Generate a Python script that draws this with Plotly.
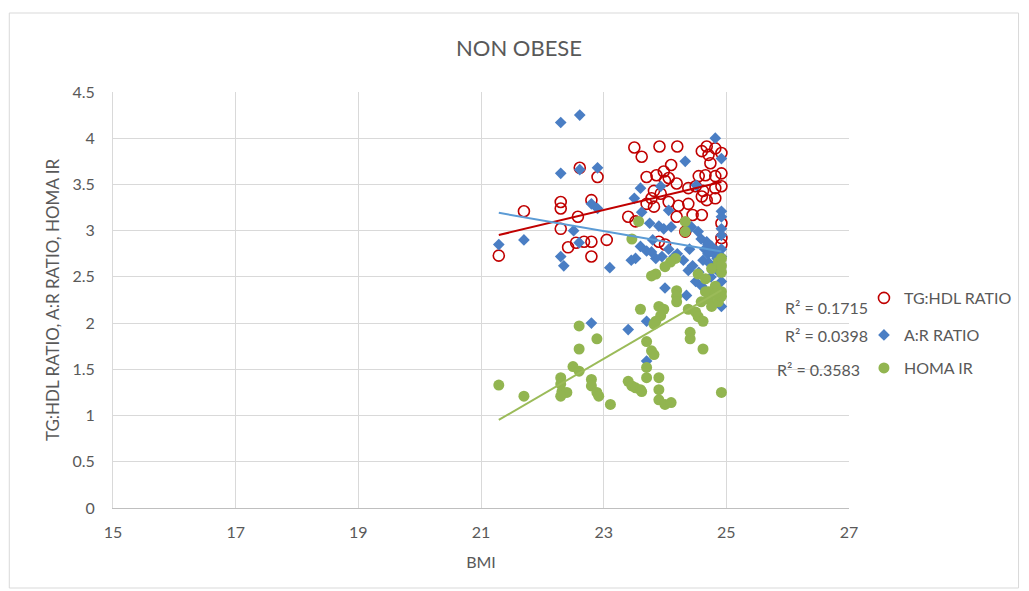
import numpy as np
import plotly.graph_objects as go

# ---------------- data ----------------
tg_x = [21.29, 21.70, 22.30, 22.30, 22.30, 22.61, 22.90, 22.80, 22.58, 22.42, 22.55, 22.68, 22.80, 23.05,
        22.80, 23.50, 23.62, 23.91, 24.20, 23.70, 23.86, 23.98, 24.06, 24.10, 24.00, 23.82, 23.93, 23.78,
        24.19, 24.38, 24.60, 24.68, 24.71, 24.82, 24.92, 24.74, 24.55, 24.66, 24.82, 24.92, 24.50, 24.62,
        24.82, 24.92, 24.60, 24.68, 24.82, 23.70, 23.82, 24.06, 24.22, 24.38, 23.40, 23.52, 24.19, 24.45,
        24.92, 24.92, 24.92, 24.33, 23.90, 24.00, 24.60]
tg_y = [2.73, 3.21, 3.31, 3.24, 3.02, 3.68, 3.58, 3.33, 3.15, 2.82, 2.87, 2.88, 2.88, 2.90,
        2.72, 3.90, 3.80, 3.91, 3.91, 3.58, 3.60, 3.64, 3.57, 3.71, 3.54, 3.43, 3.40, 3.35,
        3.51, 3.46, 3.86, 3.91, 3.82, 3.89, 3.84, 3.73, 3.59, 3.60, 3.59, 3.62, 3.48, 3.43,
        3.46, 3.48, 3.37, 3.33, 3.35, 3.29, 3.26, 3.31, 3.27, 3.29, 3.15, 3.10, 3.15, 3.17,
        3.08, 2.92, 2.85, 2.99, 2.88, 2.85, 3.17]

ar_x = [21.29, 21.70, 22.30, 22.61, 22.30, 22.61, 22.90, 22.80, 22.90, 22.51, 22.60, 22.35, 22.30, 23.10,
        23.60, 23.50, 23.93, 24.33, 24.82, 24.92, 24.51, 24.92, 24.92, 24.10, 23.52, 23.60, 23.70, 23.78,
        24.00, 24.38, 24.76, 24.68, 24.59, 24.43, 24.54, 24.92, 24.92, 23.75, 23.90, 23.98, 23.80, 24.06,
        24.06, 24.20, 22.80, 23.40, 23.70, 23.70, 24.92, 24.80, 24.85, 24.65, 23.62, 23.45, 24.92, 24.70,
        24.45, 24.55, 24.62, 24.72, 24.80, 24.88, 24.92, 24.50, 24.30, 24.15, 23.95, 23.85, 24.70, 24.85,
        24.92, 24.40, 24.60, 24.75, 24.90, 24.35]
ar_y = [2.85, 2.90, 4.17, 4.25, 3.62, 3.66, 3.68, 3.29, 3.24, 3.00, 2.87, 2.62, 2.72, 2.60,
        3.46, 3.35, 3.48, 3.75, 4.00, 3.78, 3.49, 3.21, 3.15, 3.04, 2.70, 2.83, 2.78, 2.77,
        2.38, 2.57, 2.83, 2.88, 2.91, 3.04, 2.99, 3.02, 2.95, 3.08, 3.05, 3.02, 2.90, 3.22,
        2.80, 2.75, 2.00, 1.93, 1.59, 2.02, 2.18, 2.75, 2.70, 2.80, 3.20, 2.68, 2.80, 2.85,
        2.62, 2.55, 2.68, 2.65, 2.60, 2.55, 2.45, 2.45, 2.68, 2.72, 2.72, 2.70, 2.75, 2.78,
        2.72, 2.80, 2.40, 2.50, 2.35, 2.30]

homa_x = [21.29, 21.70, 22.30, 22.30, 22.32, 22.40, 22.30, 22.50, 22.60, 22.60, 22.60, 22.89, 22.80, 22.80,
          22.89, 22.92, 23.11, 23.40, 23.46, 23.52, 23.60, 23.62, 23.70, 23.78, 23.82, 23.70, 23.70, 23.90,
          23.90, 23.90, 24.00, 24.10, 23.60, 23.90, 23.98, 23.93, 23.85, 23.82, 23.57, 23.46, 24.33, 24.33,
          24.17, 24.09, 24.00, 23.85, 23.78, 24.54, 24.66, 24.76, 24.87, 24.92, 24.82, 24.71, 24.92, 24.19,
          24.19, 24.19, 24.41, 24.41, 24.62, 24.92, 24.38, 24.50, 24.54, 24.62, 24.59, 24.71, 24.76, 24.87,
          24.92, 24.66, 24.82, 24.92, 24.92]
homa_y = [1.33, 1.21, 1.41, 1.34, 1.26, 1.25, 1.21, 1.53, 1.48, 1.72, 1.97, 1.83, 1.39, 1.32,
          1.25, 1.21, 1.12, 1.37, 1.32, 1.30, 1.28, 1.26, 1.80, 1.70, 1.66, 1.52, 1.41, 1.41,
          1.28, 1.17, 1.12, 1.14, 2.15, 2.18, 2.15, 2.08, 2.02, 1.99, 3.10, 2.91, 3.10, 2.99,
          2.70, 2.66, 2.61, 2.53, 2.51, 2.53, 2.48, 2.59, 2.66, 2.70, 2.40, 2.34, 2.34, 2.35,
          2.29, 2.23, 1.90, 1.83, 1.72, 1.25, 2.15, 2.12, 2.07, 2.02, 2.23, 2.26, 2.18, 2.23,
          2.29, 2.34, 2.32, 2.55, 2.62]

r2_labels = ["R\u00b2 = 0.1715", "R\u00b2 = 0.0398", "R\u00b2 = 0.3583"]
series_names = ["TG:HDL RATIO", "A:R RATIO", "HOMA IR"]
x_ticks = [15, 17, 19, 21, 23, 25, 27]

RED = "#C00000"
BLUE = "#4A7EC4"
GREEN = "#92B550"
LINE_BLUE = "#5B9BD5"
LINE_GREEN = "#9BBB59"
GRID = "#D9D9D9"
TXT = "#595959"
FONT = "Lato, 'Open Sans', sans-serif"


def trend(xs, ys):
    xs = np.asarray(xs); ys = np.asarray(ys)
    m, b = np.polyfit(xs, ys, 1)
    xx = np.array([xs.min(), xs.max()])
    return xx, m * xx + b


fig = go.Figure()

fig.add_trace(go.Scatter(x=tg_x, y=tg_y, mode="markers", name=series_names[0], legend="legend",
                         marker=dict(symbol="circle-open", size=11, color=RED, line=dict(width=1.6, color=RED))))
fig.add_trace(go.Scatter(x=ar_x, y=ar_y, mode="markers", name=series_names[1], legend="legend2",
                         marker=dict(symbol="diamond", size=9, color=BLUE)))
fig.add_trace(go.Scatter(x=homa_x, y=homa_y, mode="markers", name=series_names[2], legend="legend3",
                         marker=dict(symbol="circle", size=11, color=GREEN)))

for (xs, ys, col) in [(tg_x, tg_y, RED), (ar_x, ar_y, LINE_BLUE), (homa_x, homa_y, LINE_GREEN)]:
    tx, ty = trend(xs, ys)
    fig.add_trace(go.Scatter(x=tx, y=ty, mode="lines", showlegend=False, hoverinfo="skip",
                             line=dict(color=col, width=2)))

# the page body has an 8px margin, so figure coordinates = page coordinates - 8
OFF = 8
W, H = 1021, 583
L, T = 113 - OFF, 92 - OFF
R = W - (851 - OFF)
B = H - (508 - OFF)
pw, ph = W - L - R, H - T - B


def px2paper(px, py):
    return (px - OFF - L) / pw, (H - B - (py - OFF)) / ph


# R² labels
for lab, py, pxr in zip(r2_labels, [307, 335, 369], [872, 872, 864]):
    xp, yp = px2paper(pxr, py)
    fig.add_annotation(text=lab, xref="paper", yref="paper", x=xp, y=yp, xanchor="right", yanchor="middle",
                       showarrow=False, font=dict(family=FONT, size=16, color=TXT))

legends = {}
for key, py in zip(["legend", "legend2", "legend3"], [298, 335, 368]):
    xp, yp = px2paper(866, py)
    legends[key] = dict(x=xp, y=yp, xanchor="left", yanchor="middle", bgcolor="rgba(0,0,0,0)",
                        font=dict(family=FONT, size=16, color=TXT), itemwidth=30, tracegroupgap=0)

# chart border
x0, y0 = px2paper(9, 588)
x1, y1 = px2paper(1021, 13)
fig.add_shape(type="rect", xref="paper", yref="paper", x0=x0, y0=y0, x1=x1, y1=y1,
              line=dict(color=GRID, width=1), fillcolor="rgba(0,0,0,0)", layer="below")

fig.update_layout(
    width=W, height=H,
    margin=dict(l=L, r=R, t=T, b=B),
    paper_bgcolor="white", plot_bgcolor="white",
    title=dict(text="NON OBESE", x=(519 - OFF) / W, xanchor="center", y=1 - (48 - OFF) / H, yanchor="middle",
               yref="container", font=dict(family=FONT, size=22, color=TXT)),
    font=dict(family=FONT, color=TXT),
    legend=legends["legend"], legend2=legends["legend2"], legend3=legends["legend3"],
    xaxis=dict(range=[15, 27], tickvals=x_ticks, showgrid=True, gridcolor=GRID, gridwidth=1,
               zeroline=False, showline=True, linecolor="#BFBFBF", linewidth=1, ticks="",
               tickfont=dict(family=FONT, size=16, color=TXT), ticklabelstandoff=10,
               title=dict(text="BMI", font=dict(family=FONT, size=16, color=TXT), standoff=16)),
    yaxis=dict(range=[0, 4.5], dtick=0.5, showgrid=True, gridcolor=GRID, gridwidth=1,
               zeroline=False, showline=True, linecolor=GRID, mirror=False, ticks="",
               tickfont=dict(family=FONT, size=16, color=TXT), ticklabelstandoff=14,
               title=dict(text="TG:HDL RATIO, A:R RATIO, HOMA IR",
                          font=dict(family=FONT, size=17, color=TXT), standoff=8)),
)

fig.write_html("out.html")
